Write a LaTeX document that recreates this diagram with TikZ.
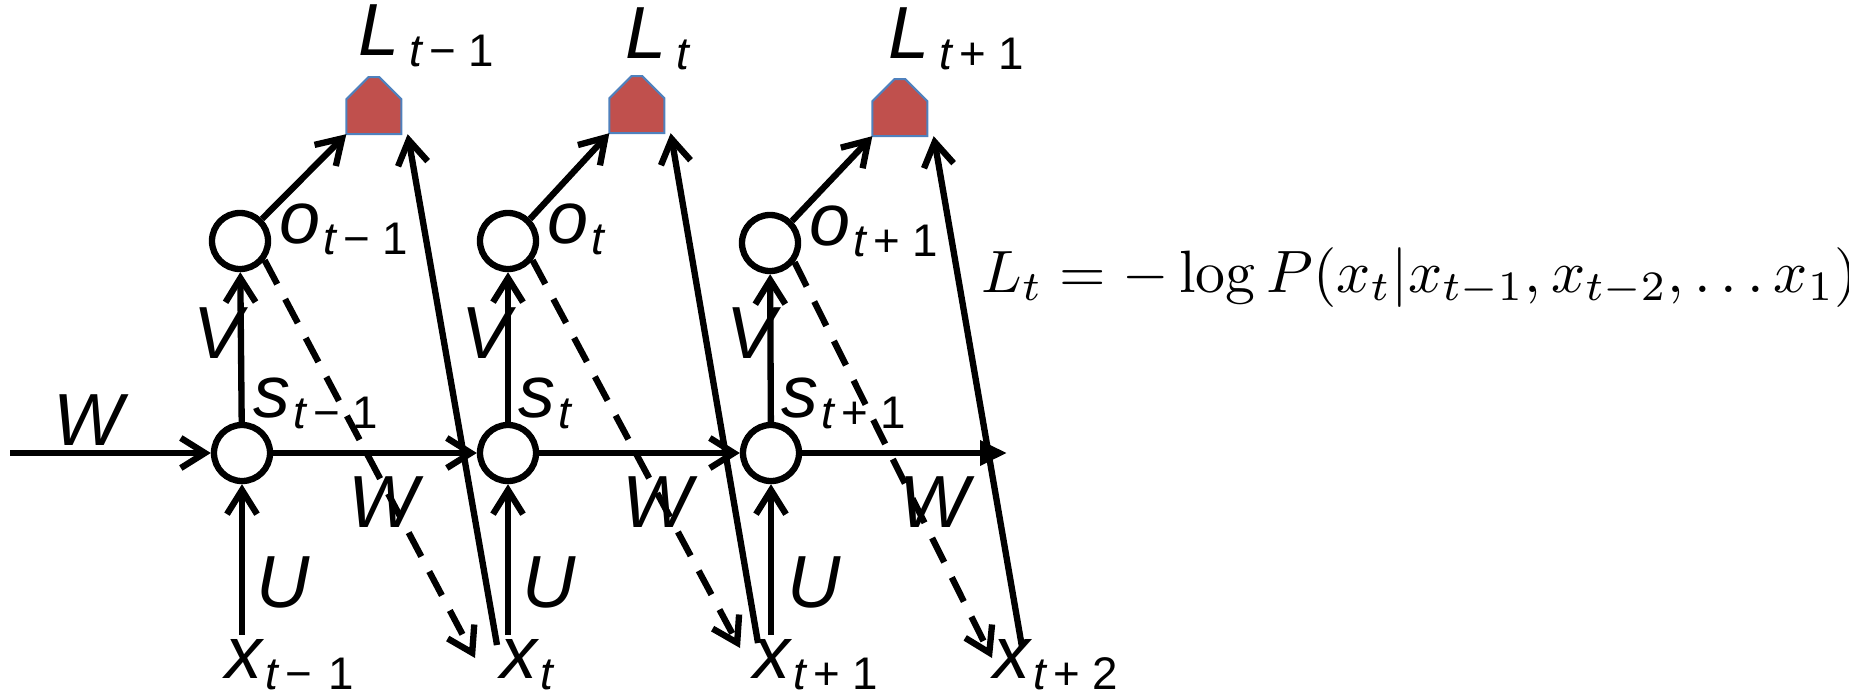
\documentclass[tikz,border=0pt]{standalone}
\usepackage[no-math]{fontspec}
\usepackage{amsmath}
\usepackage{tikz}
\usetikzlibrary{arrows.meta,positioning}
\newfontfamily\arialfont{Liberation Sans}
\definecolor{lossred}{RGB}{192,80,77}
\definecolor{lossblue}{RGB}{79,129,189}
\newcommand{\sbs}[1]{\kern1pt\raisebox{-3.4pt}{\fontsize{13}{15}\selectfont #1}}

\begin{document}
\begin{tikzpicture}[x=0.01cm, y=-0.01cm, line width=1.8pt,
    unit/.style={draw, circle, fill=white, minimum size=0.56cm, inner sep=0pt},
    lossbox/.style={minimum width=0.55cm, minimum height=0.57cm, inner sep=0pt},
    lbl/.style={font=\arialfont\fontsize{21}{25}\selectfont\itshape, inner sep=0pt, anchor=base west},
    link/.style={-{Straight Barb[length=2.4mm,width=3mm]}},
    back/.style={link, dash pattern=on 2.7mm off 1.7mm}]
    \useasboundingbox (0,0) rectangle (1849,694);

    \node[unit] (s1) at (242,453) {};
    \node[unit] (s2) at (508,453) {};
    \node[unit] (s3) at (771,453) {};
    \node[unit] (o1) at (240,241) {};
    \node[unit] (o2) at (508,241) {};
    \node[unit] (o3) at (770,243) {};
    \node[lossbox] (L1) at (377,102.5) {};
    \node[lossbox] (L2) at (640,101.5) {};
    \node[lossbox] (L3) at (903,104.5) {};

    \coordinate (w0) at (10,453);
    \coordinate (w4) at (1007,453);
    \coordinate (u1) at (242,635);
    \coordinate (u2) at (508,635);
    \coordinate (u3) at (771,635);
    \coordinate (d1) at (475,658);
    \coordinate (d2) at (740,648);
    \coordinate (d3) at (992,658);
    \coordinate (c1) at (497,645);
    \coordinate (c2) at (758,643);
    \coordinate (c3) at (1022,647);

    % loss boxes
    \foreach \k in {1,2,3}
        \filldraw[fill=lossred, draw=lossblue, line width=0.6pt] (L\k.south west) -- ++(0,-35) -- ++(22,-22) -- ++(11,0) -- ++(22,22) -- ++(0,35) -- cycle;

    \draw[link] (w0) -- (s1);
    \draw[link] (s1) -- (s2);
    \draw[link] (s2) -- (s3);
    \draw[-{Triangle[length=2.7mm,width=2.4mm]}] (s3) -- (w4);
    \draw[link] (u1) -- (s1);
    \draw[link] (u2) -- (s2);
    \draw[link] (u3) -- (s3);
    \draw[link] (s1) -- (o1);
    \draw[link] (s2) -- (o2);
    \draw[link] (s3) -- (o3);
    \draw[link] (o1.45) -- (L1.south west);
    \draw[link] (o2.45) -- (L2.south west);
    \draw[link] (o3.45) -- (L3.south west);
    \draw[back] (o1.-38) -- (d1);
    \draw[back] (o2.-38) -- (d2);
    \draw[back] (o3.-38) -- (d3);
    \draw[link] (c1) -- (L1.south east);
    \draw[link] (c2) -- (L2.south east);
    \draw[link] (c3) -- (L3.south east);

    \node[lbl] (lw0) at (50,445) {W};
    \node[lbl] (lw1) at (345,527) {W};
    \node[lbl] (lw2) at (619,527) {W};
    \node[lbl] (lw3) at (896,527) {W};
    \node[lbl] (lv1) at (190,358) {V};
    \node[lbl] (lv2) at (458,358) {V};
    \node[lbl] (lv3) at (723,358) {V};
    \node[lbl] (lu1) at (253,607) {U};
    \node[lbl] (lu2) at (519,607) {U};
    \node[lbl] (lu3) at (784,607) {U};
    \node[lbl] (ls1) at (250,417) {s\sbs{t\kern2pt\textup{− 1}}};
    \node[lbl] (ls2) at (515,417) {s\sbs{t}};
    \node[lbl] (ls3) at (778,417) {s\sbs{t\kern2pt\textup{+ 1}}};
    \node[lbl] (lo1) at (276,243) {o\sbs{t\kern2pt\textup{− 1}}};
    \node[lbl] (lo2) at (544,243) {o\sbs{t}};
    \node[lbl] (lo3) at (806,245) {o\sbs{t\kern2pt\textup{+ 1}}};
    \node[lbl] (lL1) at (355,55) {L\sbs{\kern2pt t\kern2pt\textup{− 1}}};
    \node[lbl] (lL2) at (622,58) {L\sbs{\kern2pt t}};
    \node[lbl] (lL3) at (885,58) {L\sbs{\kern2pt t\kern2pt\textup{+ 1}}};
    \node[lbl] (lx1) at (222,678) {x\sbs{t\kern2pt\textup{− \kern1pt1}}};
    \node[lbl] (lx2) at (497,678) {x\sbs{t}};
    \node[lbl] (lx3) at (750,678) {x\sbs{t\kern2pt\textup{+ 1}}};
    \node[lbl] (lx4) at (990,678) {x\sbs{t\kern2pt\textup{+ 2}}};

    \node[anchor=base west, inner sep=0pt, scale=1.7] (loss) at (976,292) {$L_t = -\log P(x_t|x_{t-1},x_{t-2},\dots x_1)$};
\end{tikzpicture}
\end{document}
